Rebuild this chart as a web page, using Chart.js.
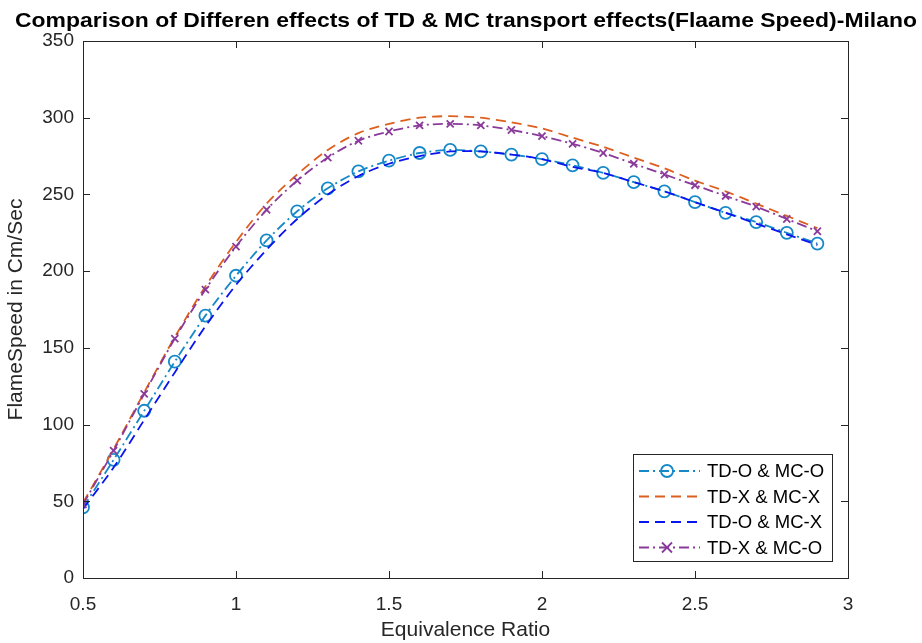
<!DOCTYPE html>
<html>
<head>
<meta charset="utf-8">
<script src="https://cdn.jsdelivr.net/npm/chart.js@4.4.0/dist/chart.umd.min.js"></script>
<style>
  body { margin: 0; background: #fff; }
</style>
</head>
<body>
<canvas id="grafico" width="922" height="643"></canvas>
<script>
const razao = [0.5, 0.6, 0.7, 0.8, 0.9, 1.0, 1.1, 1.2, 1.3, 1.4, 1.5, 1.6, 1.7, 1.8, 1.9, 2.0, 2.1, 2.2, 2.3, 2.4, 2.5, 2.6, 2.7, 2.8, 2.9];
const tdoMco = [46, 77, 109, 141, 171, 197, 220, 239, 254, 265, 272, 277, 279, 278, 276, 273, 269, 264, 258, 252, 245, 238, 232, 225, 218];
const tdxMcx = [49, 84, 121, 157, 190, 219, 244, 263, 279, 290, 296, 300, 301, 300, 297, 293, 287, 281, 274, 267, 259, 252, 244, 236, 228];
const tdoMcx = [45, 72, 103, 134, 164, 191, 214, 234, 250, 262, 270, 275, 278, 278, 276, 273, 268, 264, 258, 252, 245, 238, 231, 224, 217];
const tdxMco = [48, 83, 120, 156, 188, 216, 240, 259, 274, 285, 291, 295, 296, 295, 292, 288, 283, 277, 270, 263, 256, 249, 242, 234, 226];
const xTicks = [0.5, 1, 1.5, 2, 2.5, 3];
const yTicks = [0, 50, 100, 150, 200, 250, 300, 350];
const titulo = 'Comparison of Differen effects of TD & MC transport effects(Flaame Speed)-Milano';

const pontos = (ys) => razao.map((x, i) => ({ x: x, y: ys[i] }));

const series = [
  { label: 'TD-O & MC-O', data: pontos(tdoMco), color: '#1588c8', dash: [10, 4, 2, 4], marker: 'circle', raio: 6, order: 4 },
  { label: 'TD-X & MC-X', data: pontos(tdxMcx), color: '#dd5f1e', dash: [10, 6], marker: false, raio: 0, order: 3 },
  { label: 'TD-O & MC-X', data: pontos(tdoMcx), color: '#0a14f0', dash: [10, 6], marker: false, raio: 0, order: 2 },
  { label: 'TD-X & MC-O', data: pontos(tdxMco), color: '#8a3a9a', dash: [10, 4, 2, 4], marker: 'crossRot', raio: 5, order: 1 }
];

const corEixo = '#262626';
const fonte = '"Liberation Sans", Arial, sans-serif';

// moldura, ticks para dentro, titulo e legenda ao estilo MATLAB
const moldura = {
  id: 'moldura',
  afterDraw(chart) {
    const { ctx, chartArea: a, scales } = chart;
    ctx.save();
    ctx.strokeStyle = corEixo;
    ctx.lineWidth = 1;
    ctx.setLineDash([]);
    ctx.strokeRect(a.left + 0.5, a.top + 0.5, a.right - a.left, a.bottom - a.top);
    ctx.beginPath();
    xTicks.forEach(v => {
      const px = Math.round(scales.x.getPixelForValue(v)) + 0.5;
      ctx.moveTo(px, a.bottom); ctx.lineTo(px, a.bottom - 7);
      ctx.moveTo(px, a.top); ctx.lineTo(px, a.top + 7);
    });
    yTicks.forEach(v => {
      const py = Math.round(scales.y.getPixelForValue(v)) + 0.5;
      ctx.moveTo(a.left, py); ctx.lineTo(a.left + 7, py);
      ctx.moveTo(a.right, py); ctx.lineTo(a.right - 7, py);
    });
    ctx.stroke();

    // titulo esticado para a largura do original
    ctx.fillStyle = '#000';
    ctx.font = 'bold 21px ' + fonte;
    ctx.textAlign = 'left';
    ctx.textBaseline = 'middle';
    const largura = ctx.measureText(titulo).width;
    ctx.save();
    ctx.translate(15, 21);
    ctx.scale(902 / largura, 1);
    ctx.fillText(titulo, 0, 0);
    ctx.restore();

    // legenda
    const lx = 633, ly = 454, lw = 199, lh = 107;
    ctx.fillStyle = '#fff';
    ctx.fillRect(lx, ly, lw, lh);
    ctx.strokeStyle = corEixo;
    ctx.strokeRect(lx + 0.5, ly + 0.5, lw, lh);
    series.forEach((s, i) => {
      const y = 471 + i * 25.5;
      ctx.strokeStyle = s.color;
      ctx.lineWidth = 1.8;
      ctx.setLineDash(s.dash);
      ctx.beginPath();
      ctx.moveTo(639, y); ctx.lineTo(700, y);
      ctx.stroke();
      ctx.setLineDash([]);
      if (s.marker === 'circle') {
        ctx.beginPath();
        ctx.arc(667, y, s.raio, 0, Math.PI * 2);
        ctx.stroke();
      } else if (s.marker === 'crossRot') {
        const r = s.raio;
        ctx.beginPath();
        ctx.moveTo(667 - r, y - r); ctx.lineTo(667 + r, y + r);
        ctx.moveTo(667 - r, y + r); ctx.lineTo(667 + r, y - r);
        ctx.stroke();
      }
      ctx.fillStyle = '#000';
      ctx.font = '18.5px ' + fonte;
      ctx.textAlign = 'left';
      ctx.fillText(s.label, 707, y + 1);
    });
    ctx.restore();
  }
};

const ctx = document.getElementById('grafico').getContext('2d');

const grafico = new Chart(ctx, {
  type: 'line',
  data: {
    datasets: series.map(s => ({
      label: s.label,
      data: s.data,
      borderColor: s.color,
      backgroundColor: 'rgba(0,0,0,0)',
      borderWidth: 1.8,
      borderDash: s.dash,
      tension: 0.3,
      pointStyle: s.marker,
      pointRadius: s.raio,
      pointBorderColor: s.color,
      pointBorderWidth: 1.8,
      pointBackgroundColor: 'rgba(0,0,0,0)',
      order: s.order
    }))
  },
  options: {
    responsive: false,
    animation: false,
    layout: { padding: { top: 41, right: 74, left: 0, bottom: 0 } },
    plugins: {
      legend: { display: false },
      title: { display: false },
      tooltip: { enabled: false }
    },
    scales: {
      x: {
        type: 'linear',
        min: 0.5,
        max: 3,
        afterBuildTicks: (scale) => { scale.ticks = xTicks.map(v => ({ value: v })); },
        afterFit: (scale) => { scale.height = 65; },
        grid: { display: false, drawTicks: false },
        border: { display: false },
        ticks: { color: corEixo, font: { size: 19, family: fonte }, padding: 15, maxRotation: 0, callback: (v) => String(v) },
        title: { display: true, text: 'Equivalence Ratio', color: corEixo, font: { size: 21, family: fonte }, padding: { bottom: 0 } }
      },
      y: {
        min: 0,
        max: 350,
        afterBuildTicks: (scale) => { scale.ticks = yTicks.map(v => ({ value: v })); },
        afterFit: (scale) => { scale.width = 83; },
        grid: { display: false, drawTicks: false },
        border: { display: false },
        ticks: { color: corEixo, font: { size: 19, family: fonte }, padding: 9 },
        title: { display: true, text: 'FlameSpeed in Cm/Sec', color: corEixo, font: { size: 21, family: fonte }, padding: { top: 4 } }
      }
    }
  },
  plugins: [moldura]
});
</script>
</body>
</html>
